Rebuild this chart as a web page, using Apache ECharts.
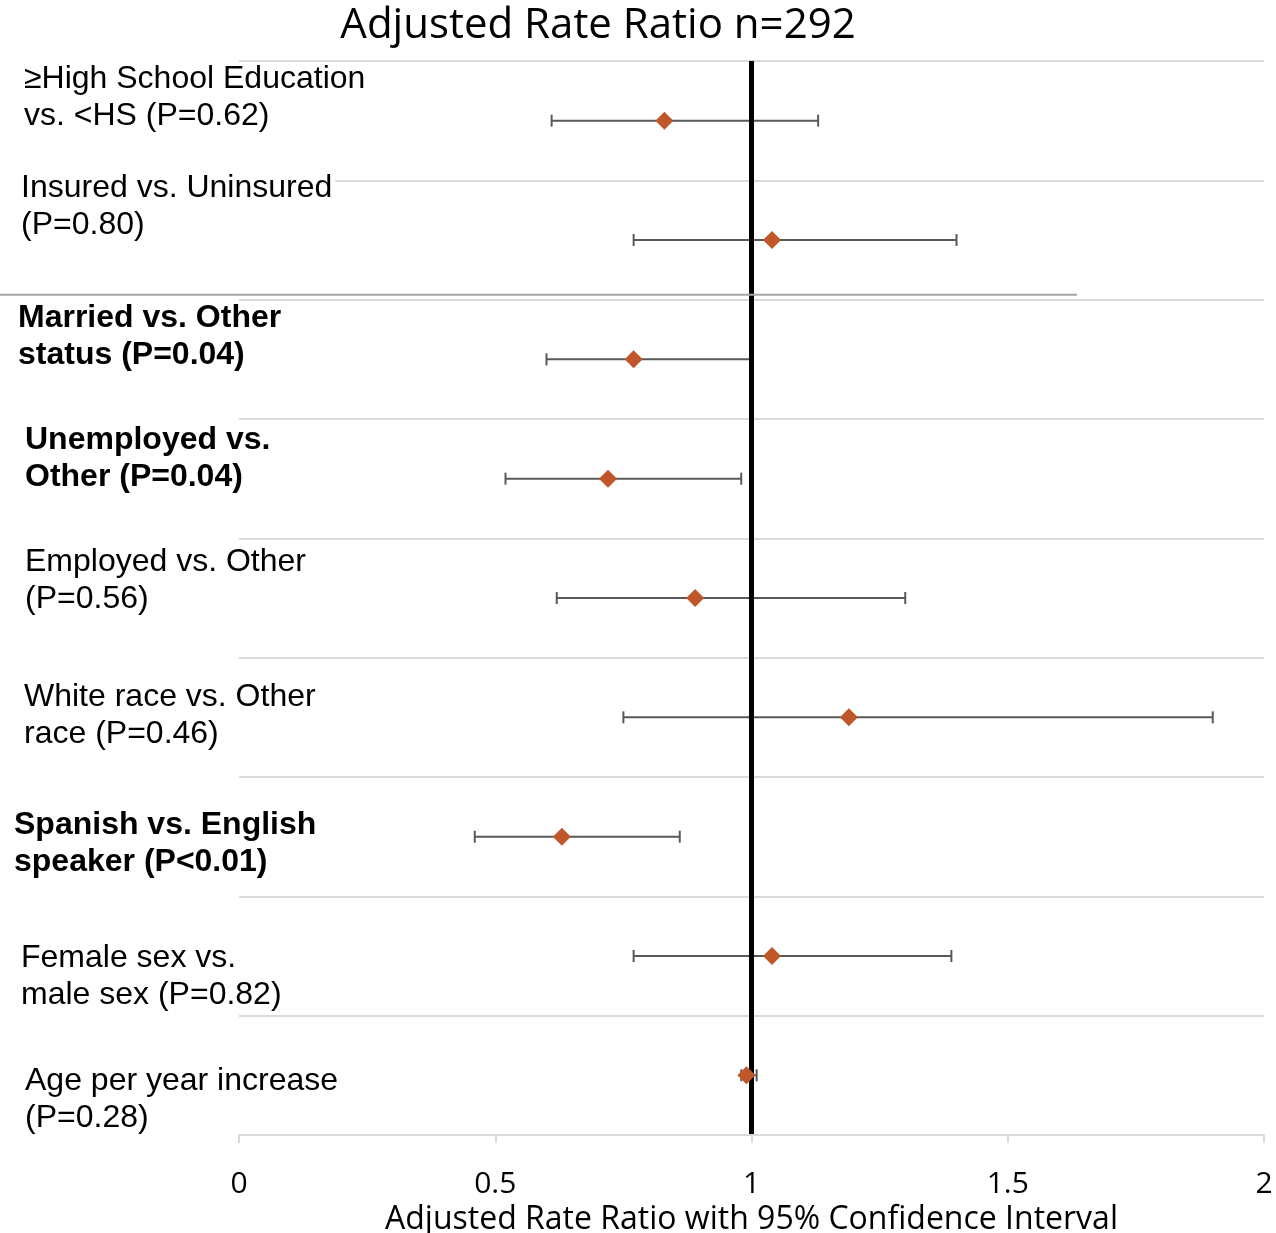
<!DOCTYPE html>
<html>
<head>
<meta charset="utf-8">
<script src="https://cdn.jsdelivr.net/npm/echarts@6/dist/echarts.min.js"></script>
<style>html,body{margin:0;padding:0;background:#fff}#c{width:1276px;height:1233px}</style>
</head>
<body>
<div id="c"></div>
<script>
// ---- data ----
var labels = [
  '≥High School Education\nvs. <HS (P=0.62)',
  'Insured vs. Uninsured\n(P=0.80)',
  'Married vs. Other\nstatus (P=0.04)',
  'Unemployed vs.\nOther (P=0.04)',
  'Employed vs. Other\n(P=0.56)',
  'White race vs. Other\nrace (P=0.46)',
  'Spanish vs. English\nspeaker (P<0.01)',
  'Female sex vs.\nmale sex (P=0.82)',
  'Age per year increase\n(P=0.28)'
];
var significant = [false, false, true, true, false, false, true, false, false];
var estimate = [0.83, 1.04, 0.77, 0.72, 0.89, 1.19, 0.63, 1.04, 0.99];
var lower    = [0.61, 0.77, 0.60, 0.52, 0.62, 0.75, 0.46, 0.77, 0.98];
var upper    = [1.13, 1.40, 1.00, 0.98, 1.30, 1.90, 0.86, 1.39, 1.01];
var xTicks = [0, 0.5, 1, 1.5, 2];

// ---- layout (label placement relative to row centre) ----
var labelLeft = [24, 21, 18, 25, 25, 24, 14, 21, 25];
var labelDy   = [-22.5, -33.5, -23, -19.5, -17.5, -1.5, 7.5, 21, 24];
var LINE_GAP = 37;
var LABEL_FONT_SIZE = 32;
var LABEL_FONT_FAMILY = 'Liberation Sans, Arial, sans-serif';

var chart = echarts.init(document.getElementById('c'));
var cats = labels.map(function (l, i) { return 'r' + i; });

var option = {
  backgroundColor: '#fff',
  animation: false,
  title: {
    text: 'Adjusted Rate Ratio n=292',
    left: 593, top: 0, textAlign: 'center',
    textStyle: { fontFamily: 'Open Sans', fontWeight: 'normal', fontSize: 42, color: '#000' }
  },
  grid: { left: 239, right: 12, top: 61, bottom: 98, containLabel: false, outerBoundsMode: 'none' },
  xAxis: {
    type: 'value', min: xTicks[0], max: xTicks[xTicks.length - 1], interval: 0.5,
    z: 150,
    axisLine: { show: true, lineStyle: { color: '#d9d9d9', width: 2 } },
    axisTick: { show: true, length: 8, lineStyle: { color: '#d9d9d9', width: 2 } },
    splitLine: { show: false },
    axisLabel: { margin: 34, fontFamily: 'Open Sans', fontSize: 30, color: '#000',
      formatter: function (v) { return String(v); } },
    name: 'Adjusted Rate Ratio with 95% Confidence Interval',
    nameLocation: 'middle', nameGap: 66,
    nameTextStyle: { fontFamily: 'Open Sans', fontSize: 32, color: '#000' }
  },
  yAxis: {
    type: 'category', data: cats, inverse: true,
    axisLine: { show: false }, axisTick: { show: false }, axisLabel: { show: false },
    splitLine: { show: true, lineStyle: { color: '#d9d9d9', width: 2 } }
  },
  series: [
    {
      type: 'custom',
      z: 3,
      data: labels.map(function (l, i) { return [i, lower[i], upper[i]]; }),
      encode: { y: 0, x: [1, 2] },
      renderItem: function (params, api) {
        var y = api.value(0);
        var a = api.coord([api.value(1), y]);
        var b = api.coord([api.value(2), y]);
        var h = 6;
        var st = { stroke: '#595959', lineWidth: 2 };
        return {
          type: 'group',
          children: [
            { type: 'line', shape: { x1: a[0], y1: a[1], x2: b[0], y2: b[1] }, style: st },
            { type: 'line', shape: { x1: a[0], y1: a[1] - h, x2: a[0], y2: a[1] + h }, style: st },
            { type: 'line', shape: { x1: b[0], y1: b[1] - h, x2: b[0], y2: b[1] + h }, style: st }
          ]
        };
      }
    },
    {
      type: 'scatter',
      z: 5,
      symbol: 'diamond', symbolSize: 18,
      itemStyle: { color: '#C0572B', opacity: 1 },
      data: estimate.map(function (v, i) { return [v, cats[i]]; }),
      markLine: {
        silent: true, symbol: ['none', 'none'], label: { show: false },
        lineStyle: { color: '#000', width: 5, type: 'solid' },
        data: [{ xAxis: 1 }]
      }
    }
  ]
};
chart.setOption(option);

// row labels (with white boxes hiding grid lines behind them) and separator
var ctx = document.createElement('canvas').getContext('2d');
var g = [];
labels.forEach(function (txt, i) {
  var yc = chart.convertToPixel({ yAxisIndex: 0 }, cats[i]);
  var lines = txt.split('\n');
  var weight = significant[i] ? 'bold' : 'normal';
  ctx.font = weight + ' ' + LABEL_FONT_SIZE + 'px ' + LABEL_FONT_FAMILY;
  lines.forEach(function (line, k) {
    var cy = yc + labelDy[i] + (k - (lines.length - 1) / 2) * LINE_GAP;
    var w = ctx.measureText(line).width;
    g.push({
      type: 'rect', z: 99, silent: true,
      shape: { x: labelLeft[i], y: cy - 13, width: w + 3, height: 26 },
      style: { fill: '#fff' }
    });
    g.push({
      type: 'text', z: 100,
      x: labelLeft[i], y: cy,
      style: {
        text: line,
        fontFamily: LABEL_FONT_FAMILY,
        fontSize: LABEL_FONT_SIZE,
        fontWeight: weight,
        fill: '#000',
        align: 'left', verticalAlign: 'middle'
      }
    });
  });
});
var yb = (chart.convertToPixel({ yAxisIndex: 0 }, cats[1]) + chart.convertToPixel({ yAxisIndex: 0 }, cats[2])) / 2 - 5;
var xe = chart.convertToPixel({ xAxisIndex: 0 }, 1.635);
g.push({ type: 'line', z: 90, shape: { x1: 0, y1: yb, x2: xe, y2: yb }, style: { stroke: '#a6a6a6', lineWidth: 2 } });
chart.setOption({ graphic: g });
</script>
</body>
</html>
